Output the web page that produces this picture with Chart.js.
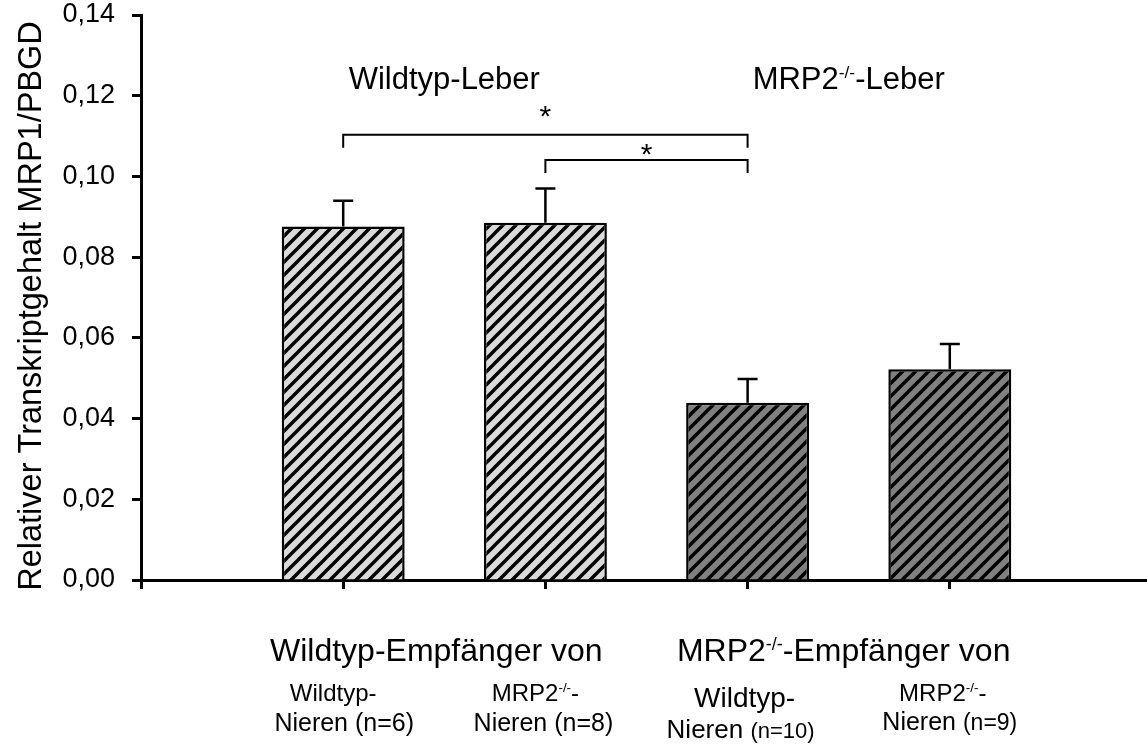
<!DOCTYPE html>
<html>
<head>
<meta charset="utf-8">
<title>MRP1-Transkriptgehalt</title>
<script src="https://cdn.jsdelivr.net/npm/chart.js@4.4.1/dist/chart.umd.min.js"></script>
<style>
  html, body { margin: 0; padding: 0; overflow: hidden; background: #fff; }
  #wrap { position: relative; width: 1152px; height: 749px; }
</style>
</head>
<body>
<div id="wrap"><canvas id="chart"></canvas></div>
<script>
// Relative MRP1 transcript content (MRP1/PBGD), mean and SEM per transplant group
const categories = ['Wildtyp → Wildtyp', 'MRP2-/- → Wildtyp', 'Wildtyp → MRP2-/-', 'MRP2-/- → MRP2-/-'];
const means = [0.0876, 0.0885, 0.0439, 0.0522];
const sems = [0.0064, 0.0085, 0.0059, 0.0063];
const yTickLabels = ['0,00', '0,02', '0,04', '0,06', '0,08', '0,10', '0,12', '0,14'];

// Text around the plot ("^{...}" marks superscript)
const liverLabels = ['Wildtyp-Leber', 'MRP2^{-/-}-Leber'];
const recipientLabels = ['Wildtyp-Empfänger von', 'MRP2^{-/-}-Empfänger von'];
const donorLabels = ['Wildtyp-', 'MRP2^{-/-}-', 'Wildtyp-', 'MRP2^{-/-}-'];
const nLabels = ['(n=6)', '(n=8)', '(n=10)', '(n=9)'];
const yTitle = 'Relativer Transkriptgehalt MRP1/PBGD';

// Significance brackets between groups (indices into categories), in axis units
const brackets = [
  { from: 0, to: 2, y: 0.1103, labelY: 0.1155, label: '*' },
  { from: 1, to: 2, y: 0.1041, labelY: 0.1061, label: '*' }
];

const FONT = '"Liberation Sans", Arial, Helvetica, sans-serif';

// Empty slots at both ends keep the axis running past the outer bars
const slots = ['', ...categories, ''];
const slotValues = [null, ...means, null];

function stripePattern(bg) {
  const s = 13;
  const c = document.createElement('canvas');
  c.width = s; c.height = s;
  const g = c.getContext('2d');
  g.fillStyle = bg;
  g.fillRect(0, 0, s, s);
  g.strokeStyle = '#000';
  g.lineWidth = 3.4;
  g.beginPath();
  g.moveTo(-s, s); g.lineTo(s, -s);
  g.moveTo(0, s); g.lineTo(s, 0);
  g.moveTo(0, 2 * s); g.lineTo(2 * s, 0);
  g.stroke();
  return g.createPattern(c, 'repeat');
}
const ctx0 = document.getElementById('chart').getContext('2d');
const lightFill = stripePattern('#dadada');
const darkFill = stripePattern('#808080');

function parseRich(str) {
  const out = [];
  const re = /\^\{([^}]*)\}/g;
  let last = 0, m;
  while ((m = re.exec(str))) {
    if (m.index > last) out.push({ t: str.slice(last, m.index) });
    out.push({ t: m[1], sup: true });
    last = re.lastIndex;
  }
  if (last < str.length) out.push({ t: str.slice(last) });
  return out;
}

// Draws segments centred on (cx, cy); cy is the middle of the capital letters
function drawSegments(ctx, segs, cx, cy, size) {
  ctx.textBaseline = 'alphabetic';
  ctx.textAlign = 'left';
  const parts = segs.map(s => {
    const sz = s.size || size;
    const fs = s.sup ? sz * 0.56 : sz;
    const font = fs + 'px ' + FONT;
    ctx.font = font;
    return { t: s.t, font, w: ctx.measureText(s.t).width, sup: s.sup, sz };
  });
  const total = parts.reduce((a, p) => a + p.w, 0);
  let x = cx - total / 2;
  const base = cy + size * 0.358;
  parts.forEach(p => {
    ctx.font = p.font;
    ctx.fillText(p.t, x, p.sup ? base - size * 0.36 : base);
    x += p.w;
  });
}
function drawRich(ctx, str, cx, cy, size) {
  drawSegments(ctx, parseRich(str), cx, cy, size);
}

// Layout of the category captions under the axis
const captionStyle = {
  line1: { size: [24, 24, 28, 24], dx: [-10, -10, -3, -7], y: [692, 692, 697, 692] },
  line2: { size: [25, 25, 26, 25], nSize: [25, 25, 22, 23], dx: [1, -2, -7, 0], y: [722, 722, 729, 721] }
};

const errorBars = {
  id: 'errorBars',
  afterDatasetsDraw(chart) {
    const ctx = chart.ctx;
    const y = chart.scales.y;
    const meta = chart.getDatasetMeta(0);
    ctx.save();
    ctx.strokeStyle = '#000';
    ctx.lineWidth = 2.5;
    meta.data.forEach((bar, i) => {
      const k = i - 1;
      if (k < 0 || k >= means.length) return;
      const top = y.getPixelForValue(means[k] + sems[k]);
      ctx.beginPath();
      ctx.moveTo(bar.x, bar.y);
      ctx.lineTo(bar.x, top);
      ctx.moveTo(bar.x - 10, top);
      ctx.lineTo(bar.x + 10, top);
      ctx.stroke();
    });
    ctx.restore();
  }
};

const annotations = {
  id: 'annotations',
  afterDraw(chart) {
    const ctx = chart.ctx;
    const xs = chart.scales.x, ys = chart.scales.y;
    const px = i => xs.getPixelForValue(i + 1);
    ctx.save();
    ctx.fillStyle = '#000';
    ctx.strokeStyle = '#000';

    // y-axis title
    ctx.save();
    ctx.translate(29, 306);
    ctx.rotate(-Math.PI / 2);
    drawRich(ctx, yTitle, 0, 0, 32.5);
    ctx.restore();

    // liver genotype headings
    drawRich(ctx, liverLabels[0], (px(0) + px(1)) / 2, 78, 31);
    drawRich(ctx, liverLabels[1], (px(2) + px(3)) / 2, 78, 31);

    // significance brackets
    ctx.lineWidth = 2;
    brackets.forEach(b => {
      const x1 = px(b.from), x2 = px(b.to);
      const yb = ys.getPixelForValue(b.y);
      ctx.beginPath();
      ctx.moveTo(x1, yb + 13);
      ctx.lineTo(x1, yb);
      ctx.lineTo(x2, yb);
      ctx.lineTo(x2, yb + 13);
      ctx.stroke();
      const starSize = 30;
      ctx.font = starSize + 'px ' + FONT;
      ctx.textAlign = 'center';
      ctx.textBaseline = 'alphabetic';
      ctx.fillText(b.label, (x1 + x2) / 2, ys.getPixelForValue(b.labelY) + starSize * 0.42);
    });

    // recipient groups
    drawRich(ctx, recipientLabels[0], (px(0) + px(1)) / 2 - 8, 650, 32);
    drawRich(ctx, recipientLabels[1], (px(2) + px(3)) / 2 - 5, 650, 32);

    // donor kidneys per bar
    categories.forEach((c, i) => {
      const s1 = captionStyle.line1, s2 = captionStyle.line2;
      drawRich(ctx, donorLabels[i], px(i) + s1.dx[i], s1.y[i], s1.size[i]);
      drawSegments(ctx, [
        { t: 'Nieren ', size: s2.size[i] },
        { t: nLabels[i], size: s2.nSize[i] }
      ], px(i) + s2.dx[i], s2.y[i], s2.size[i]);
    });
    ctx.restore();
  }
};

new Chart(ctx0, {
  type: 'bar',
  data: {
    labels: slots,
    datasets: [{
      data: slotValues,
      backgroundColor: [null, lightFill, lightFill, darkFill, darkFill, null],
      borderColor: '#000',
      borderWidth: 2.5,
      borderSkipped: 'start',
      categoryPercentage: 1,
      barPercentage: 0.608
    }]
  },
  options: {
    responsive: true,
    maintainAspectRatio: false,
    animation: false,
    events: [],
    layout: { padding: { top: 15, left: 0, right: 0, bottom: 0 } },
    plugins: { legend: { display: false }, tooltip: { enabled: false } },
    scales: {
      x: {
        type: 'category',
        offset: false,
        grid: {
          offset: false,
          drawOnChartArea: false,
          drawTicks: true,
          tickLength: 9,
          tickWidth: 3,
          tickColor: '#000'
        },
        border: { display: true, color: '#000', width: 3 },
        ticks: { display: true, callback: () => '', autoSkip: false, maxRotation: 0 },
        afterFit(scale) {
          scale.height = 169;
          scale.paddingLeft = 0; scale.paddingRight = 0;
        }
      },
      y: {
        min: 0,
        max: 0.14,
        grid: {
          drawOnChartArea: false,
          drawTicks: true,
          tickLength: 9,
          tickWidth: 3,
          tickColor: '#000'
        },
        border: { display: true, color: '#000', width: 3 },
        ticks: {
          stepSize: 0.02,
          padding: 17,
          color: '#000',
          font: { family: FONT, size: 27 },
          callback: (v, i) => yTickLabels[i]
        },
        afterFit(scale) {
          scale.width = 141;
          scale.paddingTop = 0; scale.paddingBottom = 0;
        }
      }
    }
  },
  plugins: [errorBars, annotations]
});
</script>
</body>
</html>
